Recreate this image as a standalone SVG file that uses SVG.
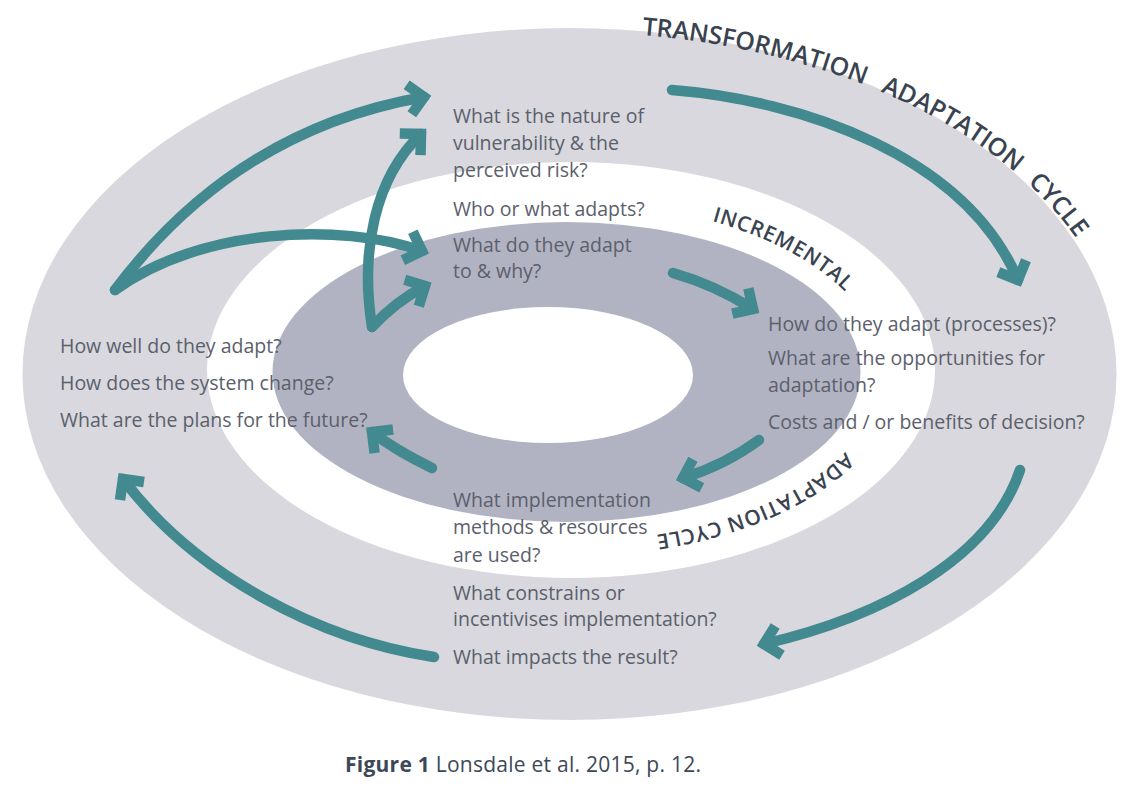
<svg xmlns="http://www.w3.org/2000/svg" width="1138" height="786" viewBox="0 0 1138 786">
<defs>
<style>
.q{font-family:"Open Sans","Liberation Sans",sans-serif;font-size:19.5px;fill:#5b606b}
.ttl{font-family:"Open Sans","Liberation Sans",sans-serif;font-weight:600;fill:#3a4350}
.big{font-size:25px;letter-spacing:-0.1px}
.inc{font-size:21px;letter-spacing:0.6px}
.cap{font-family:"Open Sans","Liberation Sans",sans-serif;font-size:21px;letter-spacing:0.25px;fill:#3c4858}
.conn{fill:none;stroke:#428a90;stroke-width:10.5;stroke-linecap:round;marker-end:url(#ah)}
</style>
<marker id="ah" markerUnits="userSpaceOnUse" orient="auto" viewBox="-30 -30 60 60" markerWidth="60" markerHeight="60" refX="0" refY="0" overflow="visible">
<path d="M-15,-15 L0,0 L-15,15" fill="none" stroke="#428a90" stroke-width="10.5" stroke-linejoin="miter" stroke-miterlimit="10"/>
</marker>
<path id="pT" d="M642,35 A552,342 0 0 1 1121.5,374 A552,342 0 0 1 569.5,716"/>
<path id="pI" d="M712,221.1 A316,170 0 0 1 882.5,372 A316,170 0 0 1 566.5,542"/>
<path id="pA" d="M845.3,452 A316,170 0 0 1 566.5,542 A316,170 0 0 1 250.5,372"/>
</defs>
<rect width="1138" height="786" fill="#ffffff"/>
<g id="rings">
<ellipse cx="569.5" cy="374" rx="547" ry="346" fill="#d8d8de"/>
<ellipse cx="571" cy="370" rx="364" ry="208" fill="#ffffff"/>
<ellipse cx="566.5" cy="372" rx="294" ry="150" fill="#b2b3c2"/>
<ellipse cx="548" cy="375" rx="145" ry="68" fill="#ffffff"/>
</g>
<g id="cycle-labels">
<text class="ttl big"><textPath href="#pT">TRANSFORMATION</textPath></text>
<text class="ttl big"><textPath href="#pT" startOffset="246">ADAPTATION</textPath></text>
<text class="ttl big"><textPath href="#pT" startOffset="420">CYCLE</textPath></text>
<text class="ttl inc"><textPath href="#pI">INCREMENTAL</textPath></text>
<text class="ttl inc"><textPath href="#pA">ADAPTATION CYCLE</textPath></text>
</g>
<g id="node-vulnerability">
<text class="q" x="453" y="123">What is the nature of</text>
<text class="q" x="453" y="150">vulnerability &amp; the</text>
<text class="q" x="453" y="177">perceived risk?</text>
</g>
<g id="node-who">
<text class="q" x="453" y="216">Who or what adapts?</text>
</g>
<g id="node-what">
<text class="q" x="453" y="252">What do they adapt</text>
<text class="q" x="453" y="278">to &amp; why?</text>
</g>
<g id="node-how">
<text class="q" x="768" y="331">How do they adapt (processes)?</text>
<text class="q" x="768" y="365">What are the opportunities for</text>
<text class="q" x="768" y="392">adaptation?</text>
<text class="q" x="768" y="429">Costs and / or benefits of decision?</text>
</g>
<g id="node-implementation">
<text class="q" x="453" y="507">What implementation</text>
<text class="q" x="453" y="534">methods &amp; resources</text>
<text class="q" x="453" y="562">are used?</text>
<text class="q" x="453" y="600">What constrains or</text>
<text class="q" x="453" y="626">incentivises implementation?</text>
<text class="q" x="453" y="664">What impacts the result?</text>
</g>
<g id="node-outcome">
<text class="q" x="60" y="353">How well do they adapt?</text>
<text class="q" x="60" y="390">How does the system change?</text>
<text class="q" x="60" y="427">What are the plans for the future?</text>
</g>
<g id="connectors">
<path class="conn" d="M672,90 C800,100 965,155 1018,280"/>
<path class="conn" d="M1020,470 C990,560 880,617 764,644"/>
<path class="conn" d="M434,657 C320,640 195,575 123,479"/>
<path class="conn" d="M115,290 Q235,130 424,97"/>
<path class="conn" d="M115,290 C200,228 340,222 422,251"/>
<path class="conn" d="M372,327 C360,250 375,178 421,134"/>
<path class="conn" d="M372,327 Q395,302 425,286"/>
<path class="conn" d="M673,273 Q715,285 753,309"/>
<path class="conn" d="M759,440 Q725,465 683,478"/>
<path class="conn" d="M432,468 Q395,450 372,432"/>
</g>
<g id="caption">
<text class="cap" x="345" y="772"><tspan font-weight="700">Figure 1</tspan> Lonsdale et al. 2015, p. 12.</text>
</g>
</svg>
